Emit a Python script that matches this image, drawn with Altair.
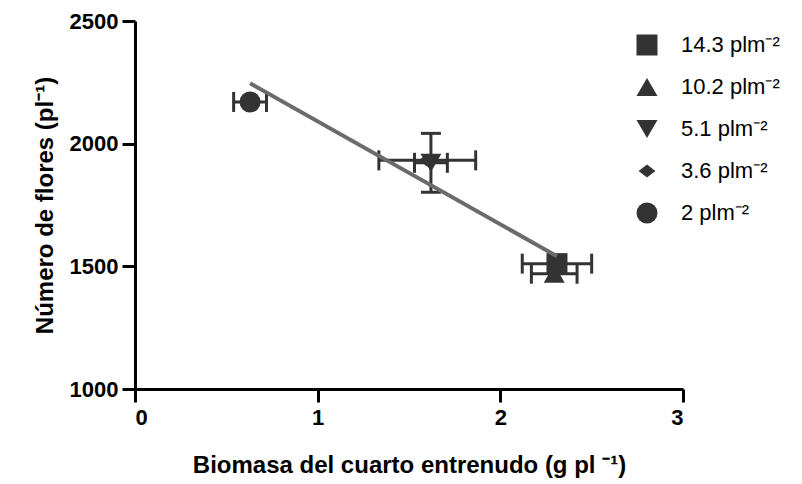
import altair as alt
import pandas as pd

# Planting densities (plants per m2), in legend order
densidad = ["14.3 plm⁻²", "10.2 plm⁻²", "5.1 plm⁻²", "3.6 plm⁻²", "2 plm⁻²"]
# Fourth-internode biomass (g per plant) and its error
biomasa = [2.31, 2.295, 1.62, 1.60, 0.63]
biomasa_err = [0.19, 0.125, 0.09, 0.265, 0.09]
# Flower number per plant and its error
flores = [1511, 1470, 1922, 1932, 2170]
flores_err = [0, 0, 120, 0, 0]

x_ticks = [0, 1, 2, 3]
y_ticks = [1000, 1500, 2000, 2500]

df = pd.DataFrame({
    "densidad": densidad,
    "biomasa": biomasa,
    "biomasa_err": biomasa_err,
    "flores": flores,
    "flores_err": flores_err,
})

FONT = "Liberation Sans"
INK = "#333333"

diamond = "M0,-0.62L0.8,0L0,0.62L-0.8,0Z"
shapes = ["square", "triangle-up", "triangle-down", diamond, "circle"]

x_scale = alt.Scale(domain=[0, 3], nice=False, zero=False)
y_scale = alt.Scale(domain=[1000, 2500], nice=False, zero=False)

x_axis = alt.Axis(values=x_ticks, format="d",
                  title="Biomasa del cuarto entrenudo (g pl ⁻¹)")
y_axis = alt.Axis(values=y_ticks, format="d", title="Número de flores (pl⁻¹)")

base = alt.Chart(df).transform_calculate(
    xlo="datum.biomasa - datum.biomasa_err",
    xhi="datum.biomasa + datum.biomasa_err",
    ylo="datum.flores - datum.flores_err",
    yhi="datum.flores + datum.flores_err",
)

# horizontal error bars with caps
xbar = base.mark_rule(color=INK, strokeWidth=3).encode(
    x=alt.X("xlo:Q", scale=x_scale, axis=x_axis),
    x2="xhi:Q",
    y=alt.Y("flores:Q", scale=y_scale, axis=y_axis),
)
xcap = base.transform_fold(["xlo", "xhi"], as_=["lado", "xv"]).mark_tick(
    orient="vertical", color=INK, size=20, thickness=3, opacity=1
).encode(x=alt.X("xv:Q", scale=x_scale), y=alt.Y("flores:Q", scale=y_scale))

# vertical error bars with caps
ybase = base.transform_filter("datum.flores_err > 0")
ybar = ybase.mark_rule(color=INK, strokeWidth=3).encode(
    x=alt.X("biomasa:Q", scale=x_scale),
    y=alt.Y("ylo:Q", scale=y_scale),
    y2="yhi:Q",
)
ycap = ybase.transform_fold(["ylo", "yhi"], as_=["lado", "yv"]).mark_tick(
    orient="horizontal", color=INK, size=20, thickness=3, opacity=1
).encode(x=alt.X("biomasa:Q", scale=x_scale), y=alt.Y("yv:Q", scale=y_scale))

points = alt.Chart(df).mark_point(filled=True, opacity=1, color=INK, size=441).encode(
    x=alt.X("biomasa:Q", scale=x_scale),
    y=alt.Y("flores:Q", scale=y_scale),
    shape=alt.Shape(
        "densidad:N",
        scale=alt.Scale(domain=densidad, range=shapes),
        sort=densidad,
        legend=alt.Legend(
            title=None, orient="none", legendX=501, legendY=13,
            symbolSize=441, symbolFillColor=INK, symbolStrokeWidth=0,
            symbolOpacity=1, labelFont=FONT, labelFontSize=22,
            labelColor="#000000", labelOffset=23, rowPadding=20, padding=0,
        ),
    ),
)

fit = alt.Chart(df).transform_regression("biomasa", "flores").mark_line(
    color="#6b6b6b", strokeWidth=4
).encode(x=alt.X("biomasa:Q", scale=x_scale), y=alt.Y("flores:Q", scale=y_scale))

chart = alt.layer(xbar, xcap, ybar, ycap, points, fit).properties(
    width=548, height=368,
    autosize=alt.AutoSizeParams(type="none"),
    padding={"left": 135, "top": 21, "right": 119, "bottom": 95},
).configure_view(stroke=None).configure_axis(
    grid=False,
    domainColor="#000000", domainWidth=3,
    tickColor="#000000", tickWidth=3, tickSize=13,
    labelFont=FONT, labelFontWeight="bold", labelFontSize=22, labelColor="#000000",
    titleFont=FONT, titleFontWeight="bold", titleFontSize=24, titleColor="#000000",
).configure_axisX(labelPadding=5, titlePadding=25).configure_axisY(
    labelPadding=4, titlePadding=12
)

chart.save("out.html", embed_options={"renderer": "svg", "actions": False})
